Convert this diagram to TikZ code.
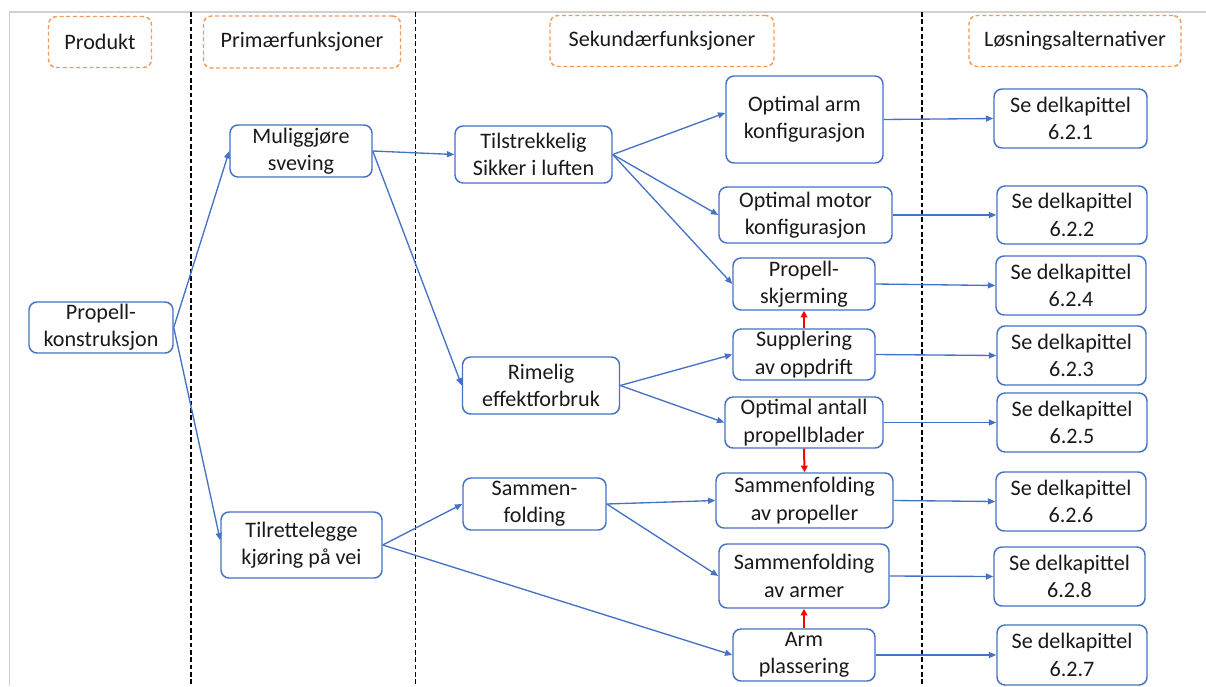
\documentclass[tikz,border=0pt]{standalone}
\usepackage{fontspec}
\setmainfont{Carlito}
\usetikzlibrary{arrows.meta,calc}
\definecolor{bl}{HTML}{4472C4}
\definecolor{org}{HTML}{F19A5B}
\definecolor{txt}{HTML}{1A1A1A}
\definecolor{frm}{HTML}{D0D0D0}
\begin{document}
\begin{tikzpicture}[x=0.75pt,y=-0.75pt,
  every node/.style={font=\fontsize{16.6}{20.5}\selectfont, text=txt},
  bx/.style n args={2}{draw=bl, line width=1.1pt, rounded corners=6pt, minimum width=#1*0.75pt, minimum height=#2*0.75pt, inner sep=0pt, align=center, fill=white},
  hdr/.style n args={2}{draw=org, line width=1.1pt, dash pattern=on 3pt off 2pt, rounded corners=6pt, minimum width=#1*0.75pt, minimum height=#2*0.75pt, inner sep=0pt, align=center},
  con/.style={draw=bl, line width=1pt, -{Triangle[length=5.5pt,width=4.5pt]}},
  rcon/.style={draw=red, line width=1.5pt, -{Triangle[length=5pt,width=5pt]}},
  sep/.style={draw=black, line width=1pt, dash pattern=on 3.5pt off 2pt}]
\useasboundingbox (0,0) rectangle (1206,686);
% frame
\draw[frm, line width=1pt] (9.5,686) -- (9.5,12) -- (1206,12);
% column separators
\coordinate (t1) at (191,12); \coordinate (b1) at (191,686);
\coordinate (t2) at (415.5,12); \coordinate (b2) at (415.5,686);
\coordinate (t3) at (922,12); \coordinate (b3) at (922,686);
\draw[sep] (t1) -- (b1);
\draw[sep] (t2) -- (b2);
\draw[sep] (t3) -- (b3);
% headers
\node[hdr={103}{51}] (h1) at (100,42) {Produkt};
\node[hdr={197}{52}] (h2) at (302,42) {Primærfunksjoner};
\node[hdr={224}{51}] (h3) at (662,41) {Sekundærfunksjoner};
\node[hdr={212}{51}] (h4) at (1075,41) {Løsningsalternativer};
% nodes
\node[bx={144}{51}] (pk) at (101,327.5) {Propell-\\konstruksjon};
\node[bx={142}{52}] (mu) at (301,151) {Muliggjøre\\sveving};
\node[bx={161}{66}] (ti) at (301.5,545) {Tilrettelegge\\kjøring på vei};
\node[bx={157}{57}] (ts) at (533.5,154.5) {Tilstrekkelig\\Sikker i luften};
\node[bx={157}{57}] (ri) at (541,385.5) {Rimelig\\effektforbruk};
\node[bx={143}{52}] (sf) at (534.5,504) {Sammen-\\folding};
\node[bx={157}{87}] (oa) at (804.5,119.5) {Optimal arm\\konfigurasjon};
\node[bx={173}{56}] (om) at (805.5,215) {Optimal motor\\konfigurasjon};
\node[bx={142}{52}] (ps) at (804,284) {Propell-\\skjerming};
\node[bx={142}{51}] (su) at (804,354.5) {Supplering\\av oppdrift};
\node[bx={158}{51}] (oan) at (804,422.5) {Optimal antall\\propellblader};
\node[bx={177}{55}] (sp) at (804.5,500.5) {Sammenfolding\\av propeller};
\node[bx={170}{64}] (sa) at (804,576) {Sammenfolding\\av armer};
\node[bx={142}{52}] (ap) at (804,655) {Arm\\plassering};
% solutions
\node[bx={153}{59}] (s1) at (1070.5,118.5) {Se delkapittel\\6.2.1};
\node[bx={150}{58}] (s2) at (1072,215) {Se delkapittel\\6.2.2};
\node[bx={150}{59}] (s4) at (1071,285.5) {Se delkapittel\\6.2.4};
\node[bx={149}{59}] (s3) at (1071.5,355.5) {Se delkapittel\\6.2.3};
\node[bx={150}{59}] (s5) at (1072,422.5) {Se delkapittel\\6.2.5};
\node[bx={150}{59}] (s6) at (1071,501.5) {Se delkapittel\\6.2.6};
\node[bx={151}{59}] (s8) at (1069.5,576.5) {Se delkapittel\\6.2.8};
\node[bx={150}{60}] (s7) at (1072,655) {Se delkapittel\\6.2.7};
% connectors
\draw[con] (pk.east) -- (mu.west);
\draw[con] (pk.east) -- ([yshift=3.5pt]ti.west);
\draw[con] (mu.east) -- (ts.west);
\draw[con] (mu.east) -- (ri.west);
\draw[con] (ti.east) -- (sf.west);
\draw[con] (ti.east) -- (ap.west);
\draw[con] (ts.east) -- ([yshift=5pt]oa.west);
\draw[con] (ts.east) -- (om.west);
\draw[con] (ts.east) -- (ps.west);
\draw[con] (ri.east) -- (su.west);
\draw[con] (ri.east) -- (oan.west);
\draw[con] (sf.east) -- (sp.west);
\draw[con] (sf.east) -- (sa.west);
\draw[con] (oa.east) -- (s1.west);
\draw[con] (om.east) -- (s2.west);
\draw[con] (ps.east) -- (s4.west);
\draw[con] (su.east) -- (s3.west);
\draw[con] (oan.east) -- (s5.west);
\draw[con] (sp.east) -- (s6.west);
\draw[con] (sa.east) -- (s8.west);
\draw[con] (ap.east) -- (s7.west);
% red arrows
\draw[rcon] (su.north) -- (ps.south);
\draw[rcon] (oan.south) -- (sp.north);
\draw[rcon] (ap.north) -- (sa.south);
\end{tikzpicture}
\end{document}
